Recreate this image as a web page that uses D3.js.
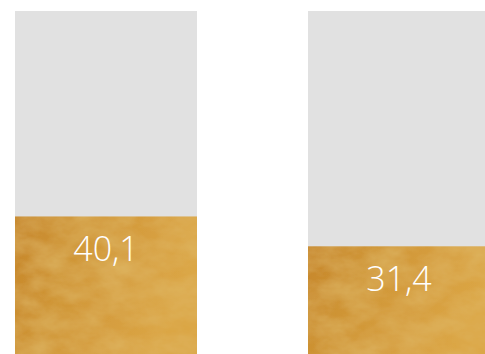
<!DOCTYPE html>
<html>
<head>
<meta charset="utf-8">
<script src="https://cdn.jsdelivr.net/npm/d3@7"></script>
<style>
html,body{margin:0;padding:0;background:#fff;overflow:hidden;}
svg{display:block;}
</style>
</head>
<body>
<svg id="chart" width="485" height="354"></svg>
<script>
const categories = ["Gruppe 1", "Gruppe 2"];
const values = [40.1, 31.4];
const maxValue = 100;
const labels = ["40,1", "31,4"];

const W = 485, H = 354;
const margin = {top: 11, right: -5, bottom: 0, left: 15};
const svg = d3.select("#chart");

const x = d3.scaleBand()
  .domain(categories)
  .range([margin.left, W - margin.right])
  .paddingInner(111/293)
  .paddingOuter(0);

const y = d3.scaleLinear()
  .domain([0, maxValue])
  .range([H - margin.bottom, margin.top]);

const defs = svg.append("defs");
const grad = defs.append("linearGradient").attr("id", "gold")
  .attr("x1", "0").attr("x2", "1").attr("y1", "0").attr("y2", "0.3");
grad.append("stop").attr("offset", "0").attr("stop-color", "#c6862a");
grad.append("stop").attr("offset", "0.35").attr("stop-color", "#cf9535");
grad.append("stop").attr("offset", "0.7").attr("stop-color", "#d69e3f");
grad.append("stop").attr("offset", "1").attr("stop-color", "#dba645");

const filt = defs.append("filter").attr("id", "tex")
  .attr("x", 0).attr("y", 0).attr("width", 1).attr("height", 1);
filt.append("feTurbulence").attr("type", "fractalNoise")
  .attr("baseFrequency", "0.03 0.05").attr("numOctaves", 4).attr("seed", 7).attr("result", "noise");
filt.append("feColorMatrix").attr("in", "noise").attr("type", "matrix")
  .attr("values", "0 0 0 0 0.74  0 0 0 0 0.48  0 0 0 0 0.13  1.1 0 0 0 -0.3")
  .attr("result", "tint");
filt.append("feComposite").attr("in", "tint").attr("in2", "SourceGraphic").attr("operator", "atop");

const g = svg.append("g");

g.selectAll("rect.bg").data(categories).join("rect")
  .attr("class", "bg")
  .attr("x", d => x(d))
  .attr("y", y(maxValue))
  .attr("width", x.bandwidth())
  .attr("height", y(0) - y(maxValue))
  .attr("fill", "#e1e1e1");

g.selectAll("rect.val").data(values).join("rect")
  .attr("class", "val")
  .attr("x", (d, i) => x(categories[i]))
  .attr("y", d => y(d))
  .attr("width", x.bandwidth())
  .attr("height", d => y(0) - y(d))
  .attr("fill", "url(#gold)")
  .attr("filter", "url(#tex)");

g.selectAll("text.lbl").data(values).join("text")
  .attr("class", "lbl")
  .attr("x", (d, i) => x(categories[i]) + x.bandwidth() / 2)
  .attr("y", d => y(d) + 45)
  .attr("text-anchor", "middle")
  .attr("fill", "#ffffff")
  .style("font-family", "'Open Sans', Lato, sans-serif")
  .style("font-weight", 300)
  .style("font-size", "34px")
  .text((d, i) => labels[i]);
</script>
</body>
</html>
